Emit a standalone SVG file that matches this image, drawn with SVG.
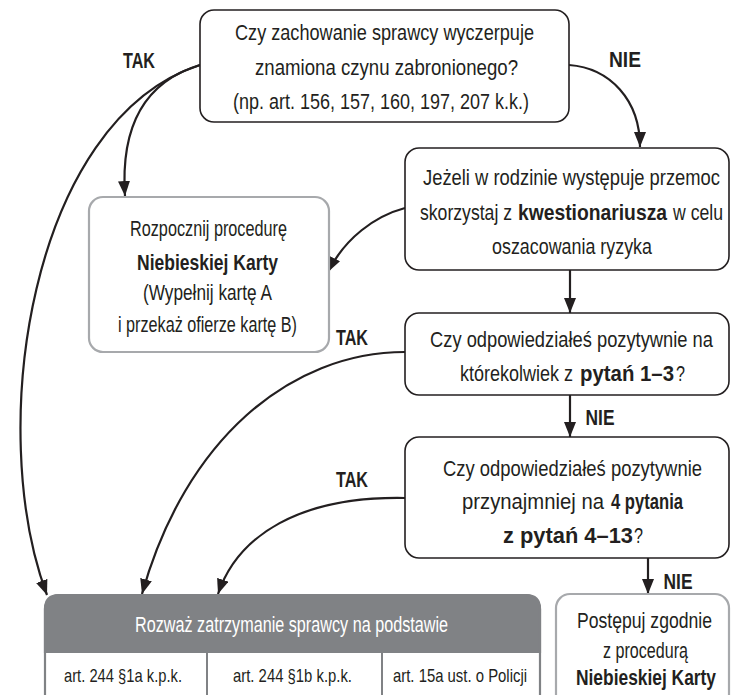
<svg xmlns="http://www.w3.org/2000/svg" width="732" height="695" viewBox="0 0 732 695">
<defs>
<marker id="ah" markerUnits="userSpaceOnUse" viewBox="0 0 15 12" refX="15" refY="6" markerWidth="15" markerHeight="12" orient="auto">
<path d="M0,0 L15,6 L0,12 Z" fill="#231f20"/>
</marker>
<style>
text{font-family:"Liberation Sans",Arial,sans-serif;fill:#231f20;text-anchor:middle;font-size:22px}
.s{text-anchor:start}
.b{font-weight:bold}
.lbl{font-weight:bold;font-size:22px}
.sm{font-size:19px}
.w{fill:#ffffff}
.box{fill:#ffffff;stroke:#231f20;stroke-width:1.6}
.gbox{fill:#ffffff;stroke:#a7a9ac;stroke-width:2.2}
.con{fill:none;stroke:#231f20;stroke-width:2.2;marker-end:url(#ah)}
</style>
</defs>
<rect width="732" height="695" fill="#ffffff"/>

<g id="connectors">
<path class="con" d="M200,65 C30,120 -15,430 47,595"/>
<path class="con" d="M200,65 C150,80 120,120 125,196"/>
<path class="con" d="M569,65 C610,68 640,100 640,147"/>
<path class="con" d="M405,208 C375,216 345,238 328,272"/>
<path class="con" d="M570,270 V313"/>
<path class="con" d="M570,395 V437"/>
<path class="con" d="M405,352 C290,352 185,440 142,594"/>
<path class="con" d="M405,498 C300,496 238,535 218,594"/>
<path class="con" d="M648,558 V594"/>
<text class="lbl" x="139" y="68" textLength="32" lengthAdjust="spacingAndGlyphs">TAK</text>
<text class="lbl" x="625" y="67" textLength="32" lengthAdjust="spacingAndGlyphs">NIE</text>
<text class="lbl" x="352" y="345" textLength="32" lengthAdjust="spacingAndGlyphs">TAK</text>
<text class="lbl" x="600" y="425" textLength="29" lengthAdjust="spacingAndGlyphs">NIE</text>
<text class="lbl" x="352" y="487" textLength="32" lengthAdjust="spacingAndGlyphs">TAK</text>
<text class="lbl" x="678" y="589" textLength="29" lengthAdjust="spacingAndGlyphs">NIE</text>
</g>

<g id="q1">
<rect class="box" x="200" y="10" width="369" height="112" rx="14"/>
<text x="384.5" y="40" textLength="299" lengthAdjust="spacingAndGlyphs">Czy zachowanie sprawcy wyczerpuje</text>
<text x="386.5" y="75" textLength="263" lengthAdjust="spacingAndGlyphs">znamiona czynu zabronionego?</text>
<text x="381" y="109" textLength="296" lengthAdjust="spacingAndGlyphs">(np. art. 156, 157, 160, 197, 207 k.k.)</text>
</g>

<g id="kwestionariusz">
<rect class="box" x="405" y="148" width="324" height="122" rx="14"/>
<text x="571.5" y="185" textLength="297" lengthAdjust="spacingAndGlyphs">Jeżeli w rodzinie występuje przemoc</text>
<text class="s" x="420" y="220" textLength="92" lengthAdjust="spacingAndGlyphs">skorzystaj z</text>
<text class="s b" x="518" y="220" textLength="149" lengthAdjust="spacingAndGlyphs">kwestionariusza</text>
<text class="s" x="673" y="220" textLength="50" lengthAdjust="spacingAndGlyphs">w celu</text>
<text x="572" y="254" textLength="160" lengthAdjust="spacingAndGlyphs">oszacowania ryzyka</text>
</g>

<g id="q2">
<rect class="box" x="405" y="313" width="324" height="82" rx="14"/>
<text x="571.5" y="347" textLength="283" lengthAdjust="spacingAndGlyphs">Czy odpowiedziałeś pozytywnie na</text>
<text class="s" x="460" y="381" textLength="113" lengthAdjust="spacingAndGlyphs">którekolwiek z</text>
<text class="s b" x="580" y="381" textLength="94" lengthAdjust="spacingAndGlyphs">pytań 1–3</text>
<text class="s" x="676" y="381" textLength="9" lengthAdjust="spacingAndGlyphs">?</text>
</g>

<g id="q3">
<rect class="box" x="405" y="437" width="324" height="121" rx="14"/>
<text x="572.5" y="476" textLength="259" lengthAdjust="spacingAndGlyphs">Czy odpowiedziałeś pozytywnie</text>
<text class="s" x="462" y="509" textLength="142" lengthAdjust="spacingAndGlyphs">przynajmniej na</text>
<text class="s b" x="611" y="509" textLength="72" lengthAdjust="spacingAndGlyphs">4 pytania</text>
<text class="s b" x="503" y="543" textLength="130" lengthAdjust="spacingAndGlyphs">z pytań 4–13</text>
<text class="s" x="634" y="543" textLength="9" lengthAdjust="spacingAndGlyphs">?</text>
</g>

<g id="niebieska-karta">
<rect class="gbox" x="89" y="197" width="240" height="155" rx="14"/>
<text x="208.5" y="236" textLength="157" lengthAdjust="spacingAndGlyphs">Rozpocznij procedurę</text>
<text class="b" x="207.5" y="270" textLength="141" lengthAdjust="spacingAndGlyphs">Niebieskiej Karty</text>
<text x="207.5" y="300" textLength="129" lengthAdjust="spacingAndGlyphs">(Wypełnij kartę A</text>
<text x="207.5" y="332" textLength="179" lengthAdjust="spacingAndGlyphs">i przekaż ofierze kartę B)</text>
</g>

<g id="zatrzymanie">
<rect x="45" y="595" width="495" height="115" rx="14" fill="#ffffff" stroke="#808285" stroke-width="2.2"/>
<path d="M45,652 V609 Q45,595 59,595 H526 Q540,595 540,609 V652 Z" fill="#808285" stroke="#808285" stroke-width="2.2"/>
<line x1="207" y1="652" x2="207" y2="700" stroke="#808285" stroke-width="2"/>
<line x1="382" y1="652" x2="382" y2="700" stroke="#808285" stroke-width="2"/>
<text class="w" x="291.5" y="632" textLength="313" lengthAdjust="spacingAndGlyphs">Rozważ zatrzymanie sprawcy na podstawie</text>
<text class="sm" x="123" y="682" textLength="118" lengthAdjust="spacingAndGlyphs">art. 244 §1a k.p.k.</text>
<text class="sm" x="292.5" y="682" textLength="119" lengthAdjust="spacingAndGlyphs">art. 244 §1b k.p.k.</text>
<text class="sm" x="460" y="682" textLength="134" lengthAdjust="spacingAndGlyphs">art. 15a ust. o Policji</text>
</g>

<g id="procedura">
<rect class="gbox" x="556" y="594" width="173" height="115" rx="14"/>
<text x="644.5" y="628" textLength="135" lengthAdjust="spacingAndGlyphs">Postępuj zgodnie</text>
<text x="645.5" y="658" textLength="85" lengthAdjust="spacingAndGlyphs">z procedurą</text>
<text class="b" x="646" y="685" textLength="140" lengthAdjust="spacingAndGlyphs">Niebieskiej Karty</text>
</g>
</svg>
